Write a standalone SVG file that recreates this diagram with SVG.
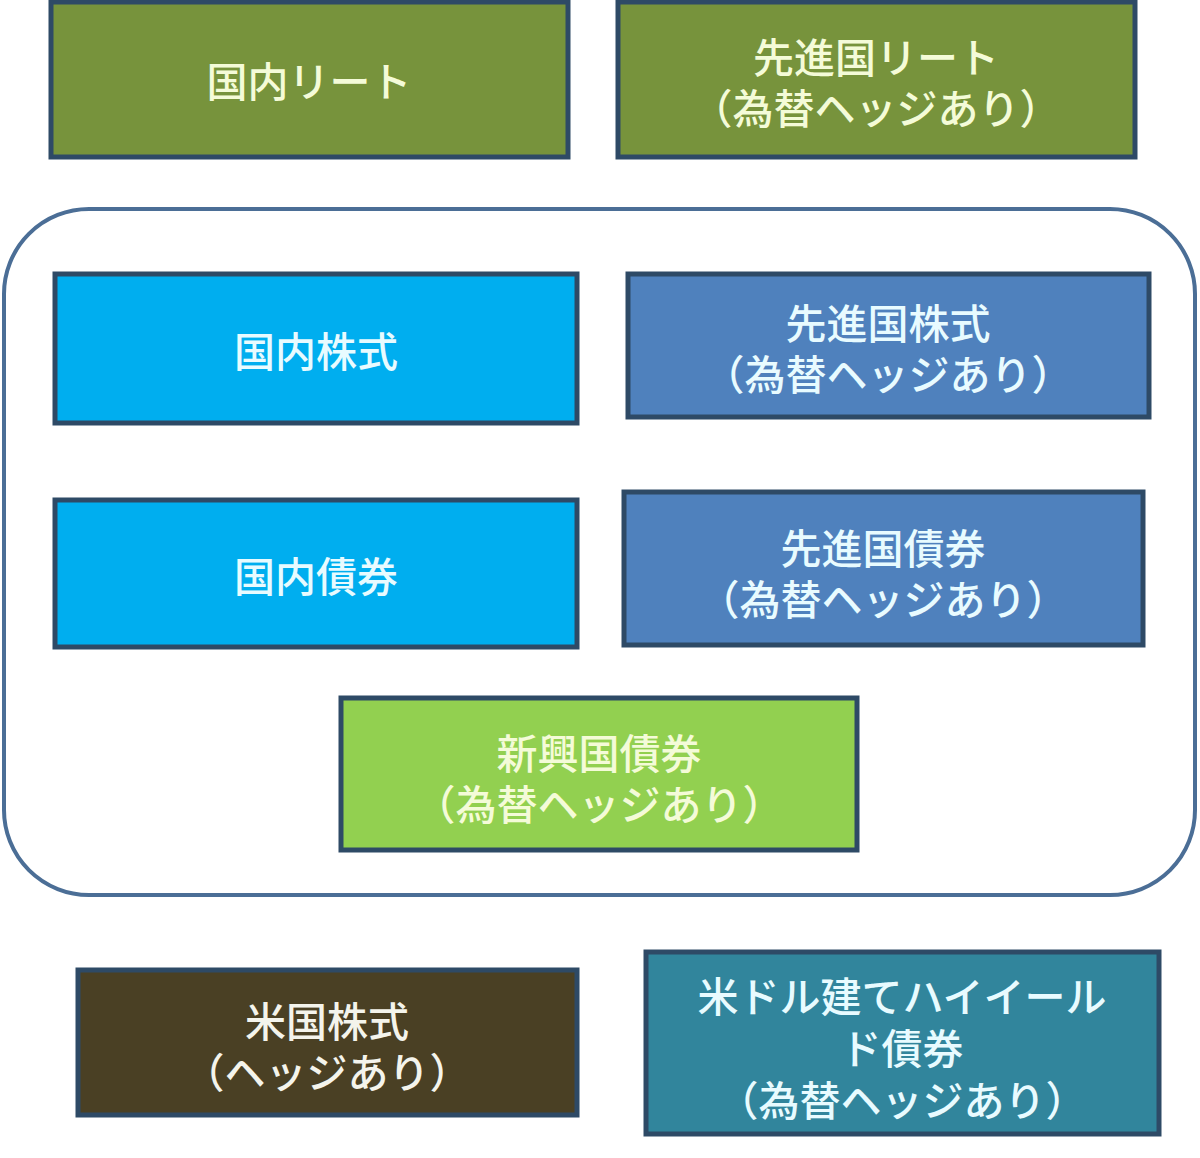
<svg xmlns="http://www.w3.org/2000/svg" width="1200" height="1158" viewBox="0 0 1200 1158">
<style>
.box{stroke:#2E4A66;stroke-width:5}
.t{font-family:"Noto Sans CJK JP","Noto Sans",sans-serif;font-size:41px;font-weight:500;text-anchor:middle;dominant-baseline:central}
.tg{fill:#F4FBD8}
.tb{fill:#E8FBFF}
.tw{fill:#F4F4EC}
</style>
<rect width="1200" height="1158" fill="#FFFFFF"/>
<g id="container">
<rect x="4" y="209" width="1191" height="686" rx="85" ry="85" fill="none" stroke="#4B6E96" stroke-width="4"/>
</g>
<g id="connectors"></g>
<g id="node-kokunai-reit">
<rect class="box" x="51" y="2" width="517" height="155" fill="#77933C"/>
<text class="t tg" x="309" y="79">国内リート</text>
</g>
<g id="node-senshinkoku-reit">
<rect class="box" x="618" y="2" width="517" height="155" fill="#77933C"/>
<text class="t tg" x="876" y="55">先進国リート</text>
<text class="t tg" x="876" y="106">（為替ヘッジあり）</text>
</g>
<g id="node-kokunai-kabushiki">
<rect class="box" x="55" y="274" width="522" height="149" fill="#00AEEF"/>
<text class="t tb" x="316" y="349">国内株式</text>
</g>
<g id="node-senshinkoku-kabushiki">
<rect class="box" x="628" y="274" width="521" height="143" fill="#4F81BD"/>
<text class="t tb" x="888" y="321">先進国株式</text>
<text class="t tb" x="888" y="372">（為替ヘッジあり）</text>
</g>
<g id="node-kokunai-saiken">
<rect class="box" x="55" y="500" width="522" height="147" fill="#00AEEF"/>
<text class="t tb" x="316" y="574">国内債券</text>
</g>
<g id="node-senshinkoku-saiken">
<rect class="box" x="624" y="492" width="519" height="153" fill="#4F81BD"/>
<text class="t tb" x="883" y="546">先進国債券</text>
<text class="t tb" x="883" y="597">（為替ヘッジあり）</text>
</g>
<g id="node-shinkokoku-saiken">
<rect class="box" x="341" y="698" width="516" height="152" fill="#92D050"/>
<text class="t tg" x="599" y="751">新興国債券</text>
<text class="t tg" x="599" y="802">（為替ヘッジあり）</text>
</g>
<g id="node-beikoku-kabushiki">
<rect class="box" x="78" y="970" width="499" height="145" fill="#4A4024"/>
<text class="t tw" x="327" y="1019">米国株式</text>
<text class="t tw" x="327" y="1070">（ヘッジあり）</text>
</g>
<g id="node-high-yield">
<rect class="box" x="646" y="952" width="513" height="182" fill="#31859C"/>
<text class="t tb" x="902" y="994">米ドル建てハイイール</text>
<text class="t tb" x="902" y="1046">ド債券</text>
<text class="t tb" x="902" y="1098">（為替ヘッジあり）</text>
</g>
</svg>
